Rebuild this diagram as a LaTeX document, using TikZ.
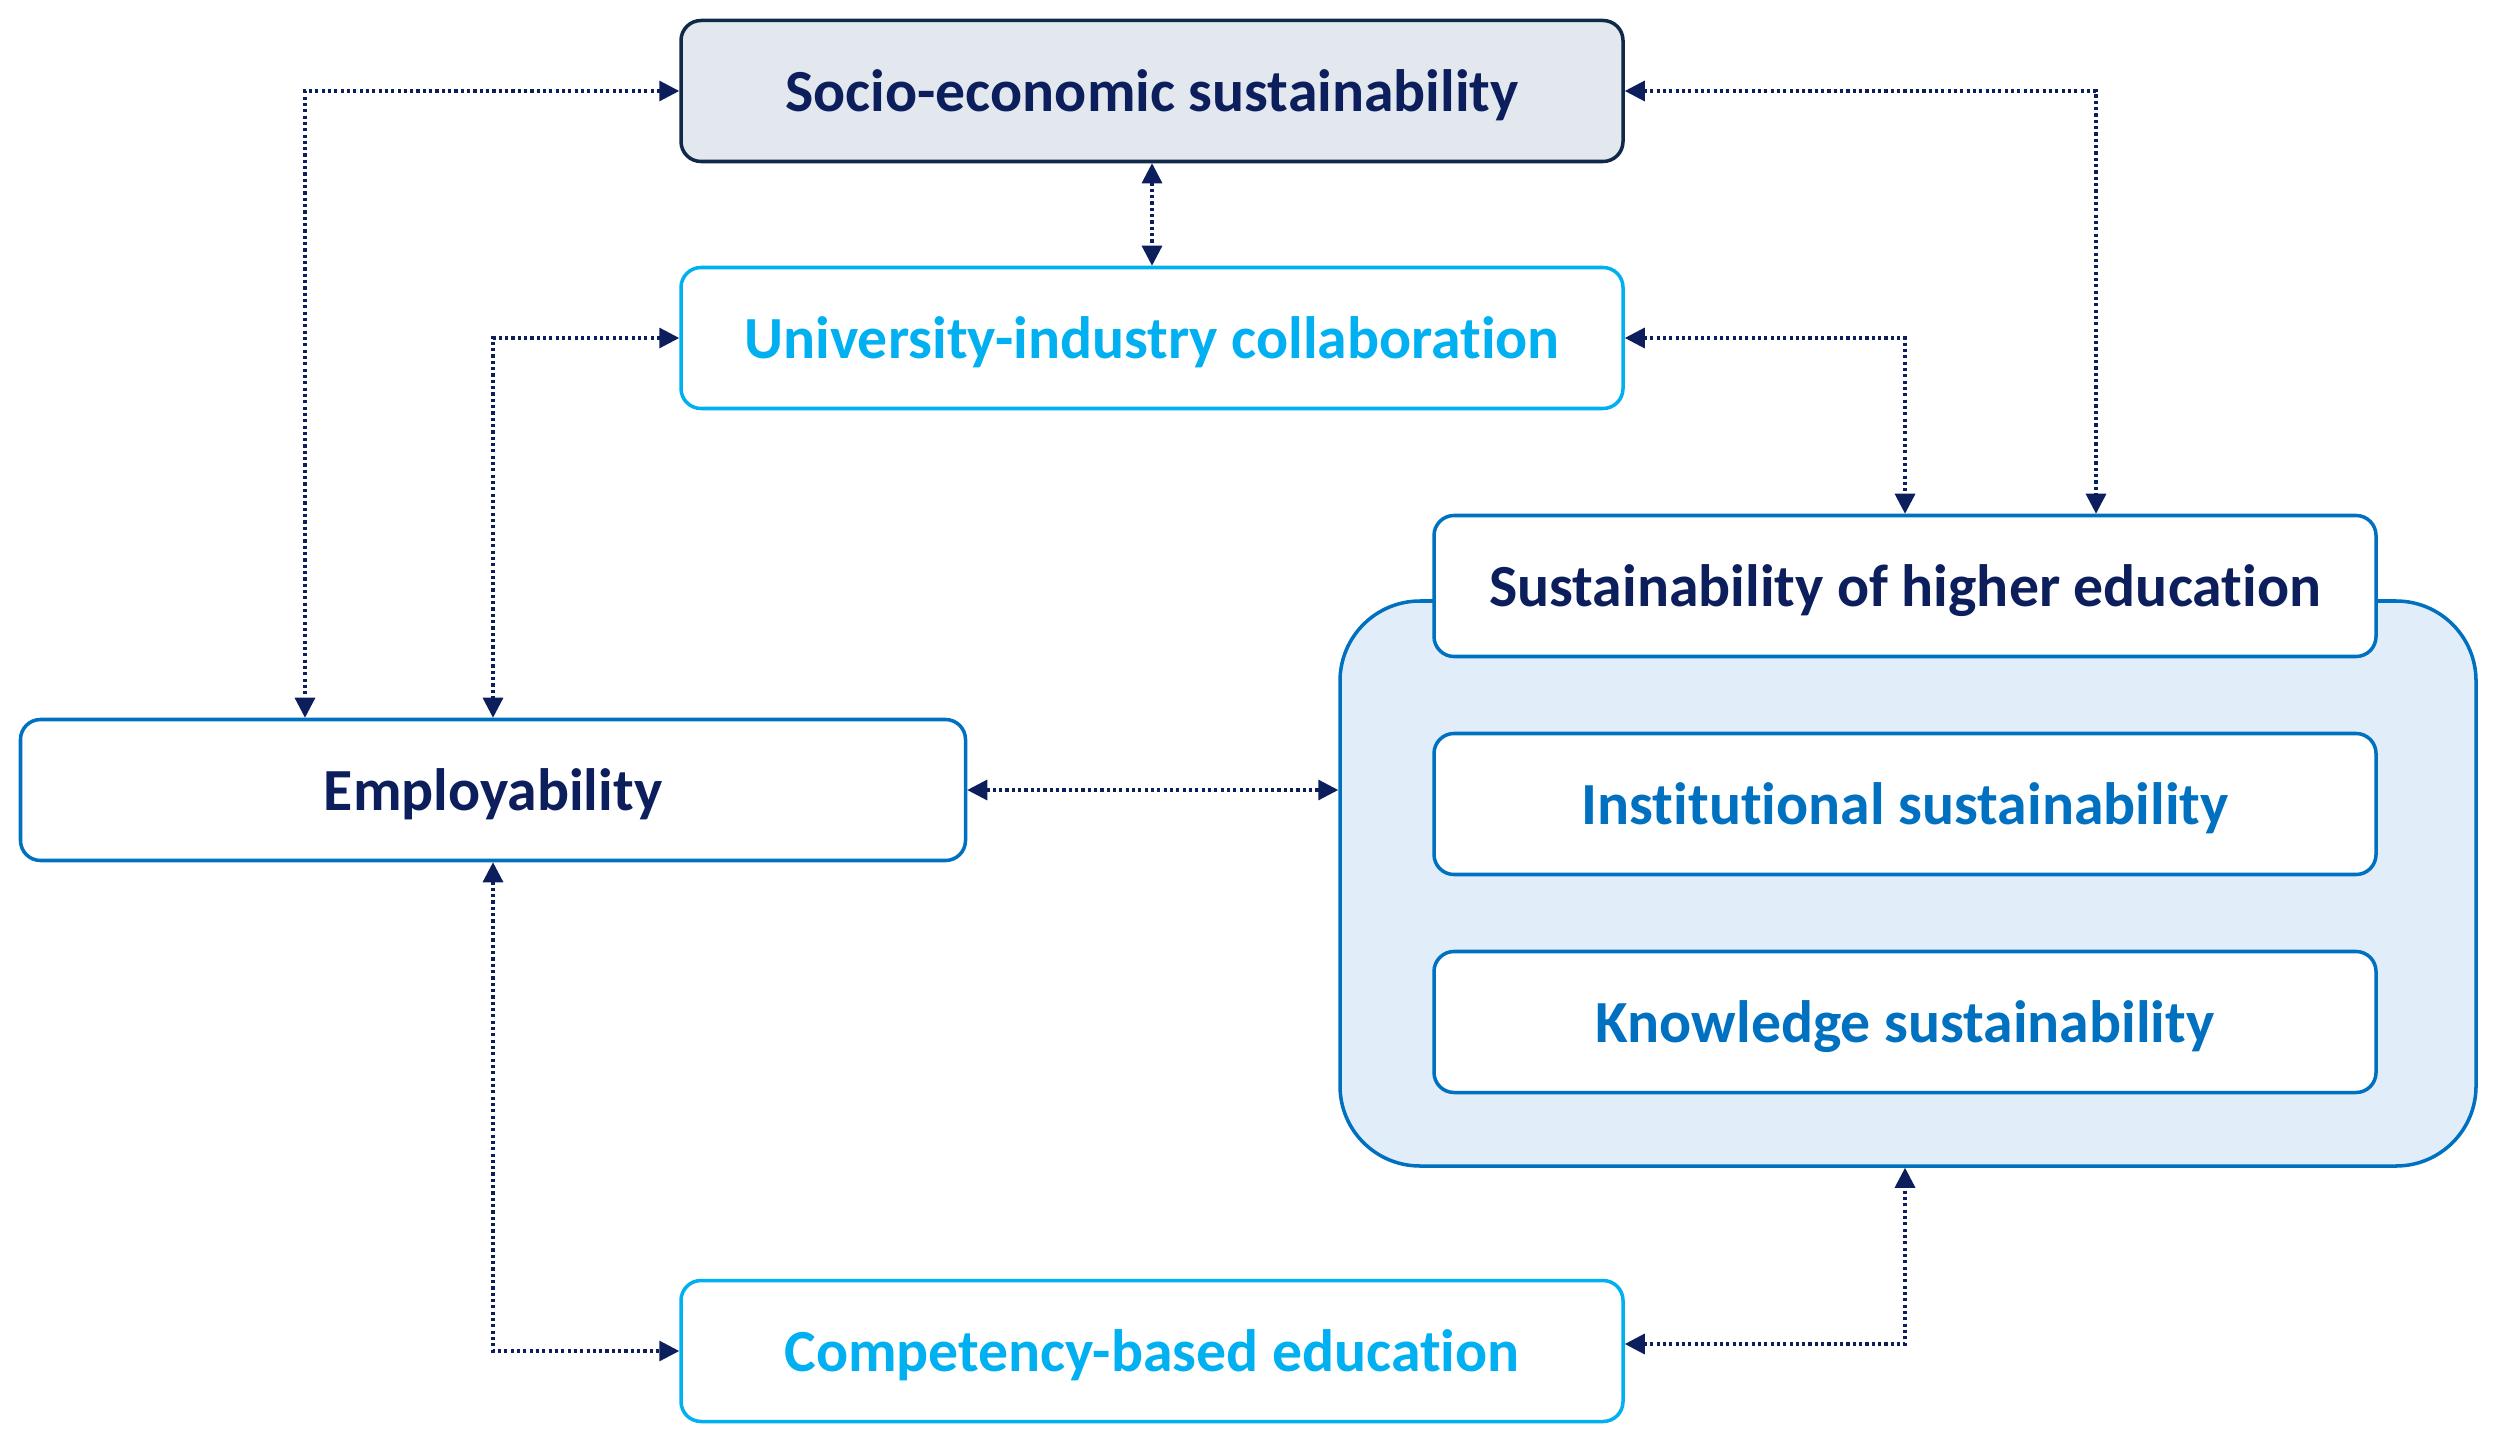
\documentclass[tikz,border=0pt]{standalone}
\usepackage{fontspec}
\setmainfont{Carlito}[Ligatures={NoCommon}]
\usepackage{tikz}
\usetikzlibrary{arrows.meta, positioning, calc}
\usepackage{xcolor}
\definecolor{MapNavy}{HTML}{0C1F5C}
\definecolor{MapDark}{HTML}{10284A}
\definecolor{MapGrey}{HTML}{E3E8EF}
\definecolor{MapCyan}{HTML}{00B0F0}
\definecolor{MapBlue}{HTML}{0070C0}
\definecolor{MapPale}{HTML}{E1EEFA}
\tikzset{
    % Box styles - rounded corners
    basebox/.style={
        rectangle,
        rounded corners=2mm,
        line width=1pt,
        minimum width=9.42cm,
        minimum height=1.41cm,
        text depth=0pt,
        align=center,
        font=\fontsize{17}{20}\selectfont\bfseries
    },
    outcome/.style={
        basebox,
        draw=MapDark,
        fill=MapGrey,
        text=MapNavy
    },
    driver/.style={
        basebox,
        draw=MapCyan,
        fill=white,
        text=MapCyan
    },
    central/.style={
        basebox,
        draw=MapBlue,
        fill=white,
        text=MapNavy
    },
    facet/.style={
        basebox,
        draw=MapBlue,
        fill=white,
        text=MapBlue
    },
    group/.style={
        rectangle,
        rounded corners=8mm,
        draw=MapBlue,
        fill=MapPale,
        line width=1pt,
        minimum width=11.36cm,
        minimum height=5.65cm
    },
    % Arrow styles - dotted, both ends
    link/.style={
        {Triangle[length=2mm, width=2mm]}-{Triangle[length=2mm, width=2mm]},
        line width=0.9pt,
        dash pattern=on 0.9pt off 0.9pt,
        draw=MapNavy
    }
}
\begin{document}
\begin{tikzpicture}
    \useasboundingbox (0,0) rectangle (24.95,-14.44);

    \node[group] (shegroup) at (19.08,-8.835) {};

    \node[outcome] (socio) at (11.52,-0.91) {Socio-economic sustainability};
    \node[driver] (univ) at (11.52,-3.38) {University-industry collaboration};
    \node[central, minimum width=9.45cm] (emp) at (4.93,-7.90) {Employability};
    \node[driver] (comp) at (11.52,-13.51) {Competency-based education};
    \node[central] (she) at (19.05,-5.86) {Sustainability of higher education};
    \node[facet] (inst) at (19.05,-8.04) {Institutional sustainability};
    \node[facet] (know) at (19.05,-10.22) {Knowledge sustainability};

    \draw[link] (socio.west) -| ([xshift=-1.88cm]emp.north);
    \draw[link] (univ.west) -| (emp.north);
    \draw[link] (socio) -- (univ);
    \draw[link] (socio.east) -| ([xshift=1.91cm]she.north);
    \draw[link] (univ.east) -| (she.north);
    \draw[link] (emp.east) -- (emp.east -| shegroup.west);
    \draw[link] (emp.south) |- (comp.west);
    \draw[link] ([yshift=0.07cm]comp.east) -| ([xshift=-0.03cm]shegroup.south);
\end{tikzpicture}
\end{document}
